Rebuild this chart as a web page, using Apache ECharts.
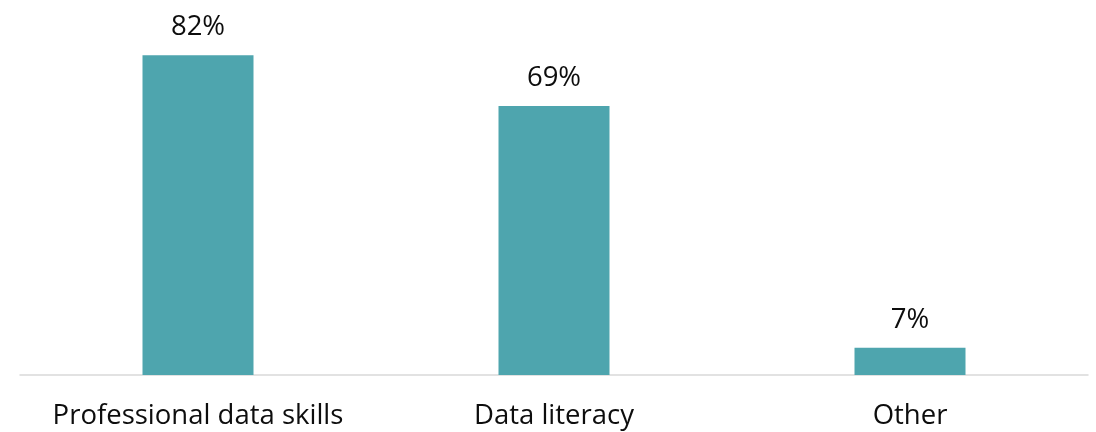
<!DOCTYPE html>
<html>
<head>
<meta charset="utf-8">
<script src="https://cdn.jsdelivr.net/npm/echarts@6/dist/echarts.min.js"></script>
<style>
  html, body { margin: 0; padding: 0; background: #ffffff; }
  #chart { width: 1096px; height: 432px; }
</style>
</head>
<body>
<div id="chart"></div>
<script>
// Share of respondents by skill type (percent)
const categories = ['Professional data skills', 'Data literacy', 'Other'];
const shares = [82, 69, 7];

const FONT = '"Open Sans", "Noto Sans", sans-serif';
const chart = echarts.init(document.getElementById('chart'), null, { renderer: 'canvas' });

chart.setOption({
  animation: false,
  backgroundColor: '#ffffff',
  grid: { left: 20, right: 8, top: 24, bottom: 57, containLabel: false },
  xAxis: {
    type: 'category',
    data: categories,
    axisLine: { show: true, lineStyle: { color: '#d9d9d9', width: 1.5 } },
    axisTick: { show: false },
    axisLabel: {
      interval: 0,
      hideOverlap: false,
      color: '#0d0d0d',
      fontFamily: FONT,
      fontSize: 27.5,
      margin: 27
    }
  },
  yAxis: {
    type: 'value',
    min: 0,
    max: 90,
    show: false,
    splitLine: { show: false }
  },
  series: [{
    type: 'bar',
    data: shares,
    barWidth: 111,
    itemStyle: { color: '#4ea5ae' },
    label: {
      show: true,
      position: 'top',
      distance: 14,
      formatter: p => p.value + '%',
      color: '#0d0d0d',
      fontFamily: FONT,
      fontSize: 27.5
    }
  }]
});
</script>
</body>
</html>
